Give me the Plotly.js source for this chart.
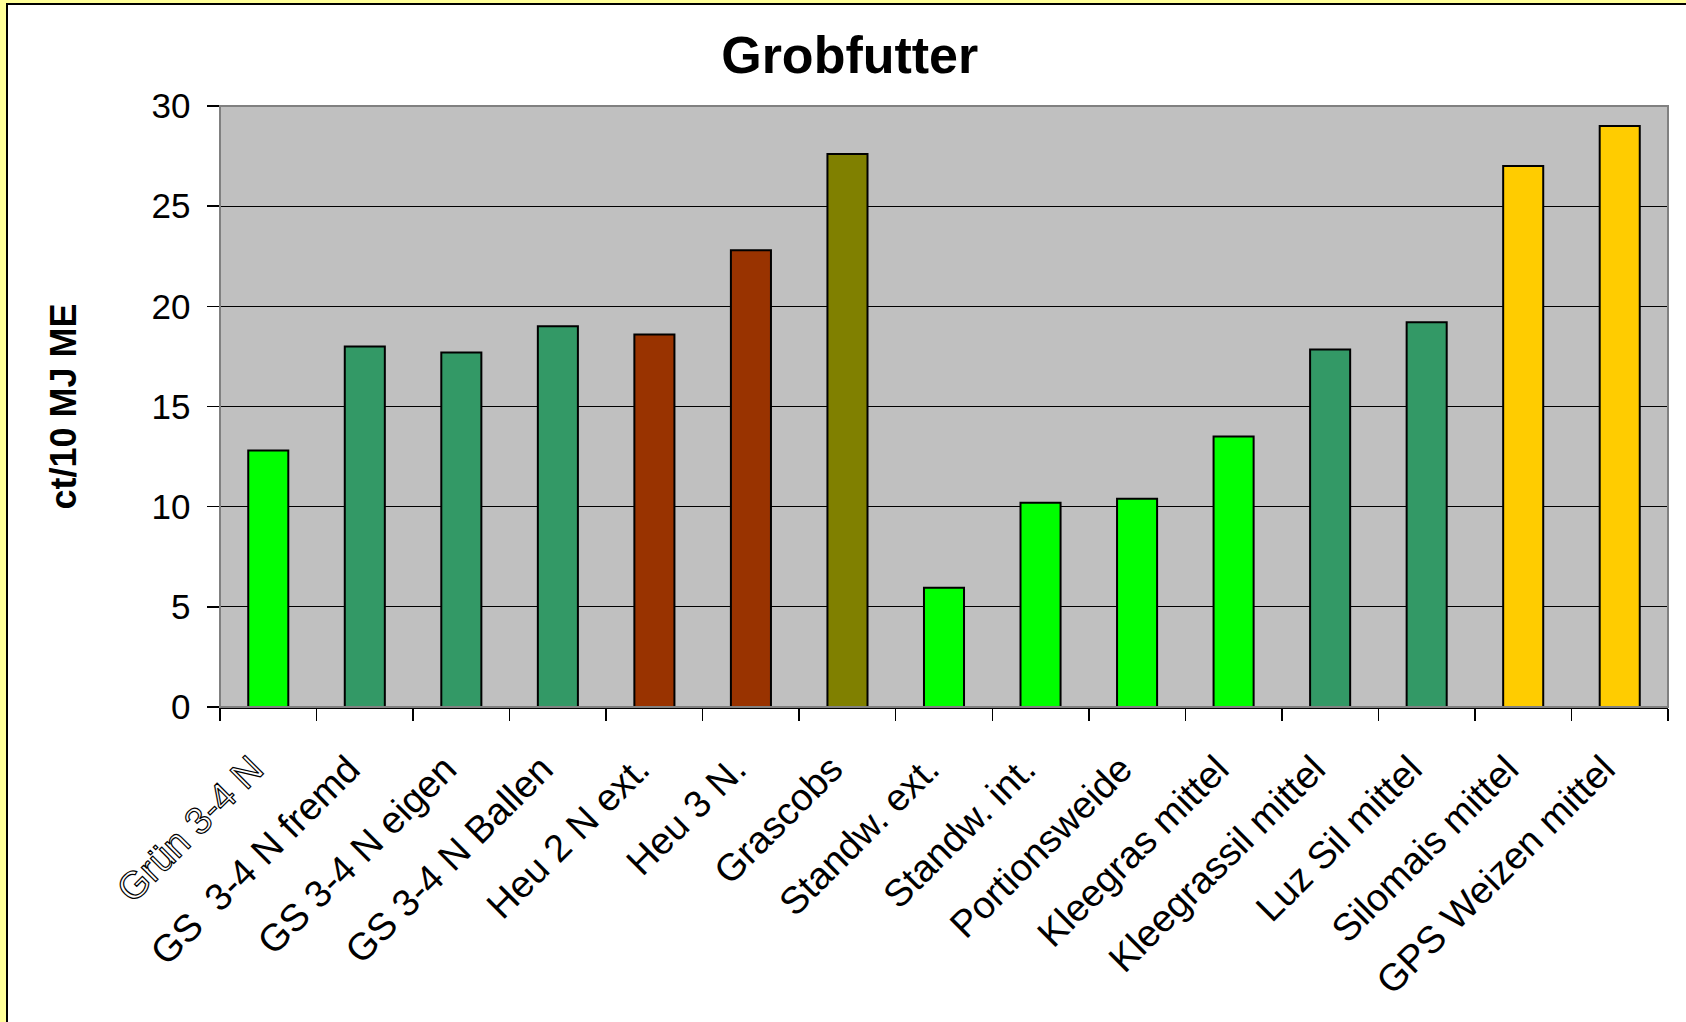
<!DOCTYPE html>
<html>
<head>
<meta charset="utf-8">
<script src="https://cdn.plot.ly/plotly-3.0.1.min.js"></script>
<style>
  html, body { margin: 0; padding: 0; width: 1686px; height: 1022px; overflow: hidden; background: #FFFF99; }
  #frame { position: absolute; left: 6px; top: 3px; width: 1700px; height: 1040px; background: #FFFFFF;
           border-left: 2px solid #000; border-top: 2px solid #000; }
  #chart { position: absolute; left: 0; top: 0; width: 1686px; height: 1022px; }
  .xaxislayer-above g.xtick:first-of-type text { fill: #FFFFFF !important; stroke: #000000; stroke-width: 1.2px; }
</style>
</head>
<body>
<div id="frame"></div>
<div id="chart"></div>
<script>
const categories = [
  "Grün 3-4 N",
  "GS\u00a0 3-4 N fremd",
  "GS 3-4 N eigen",
  "GS 3-4 N Ballen",
  "Heu 2 N ext.",
  "Heu 3 N.",
  "Grascobs",
  "Standw. ext.",
  "Standw. int.",
  "Portionsweide",
  "Kleegras mittel",
  "Kleegrassil mittel",
  "Luz Sil mittel",
  "Silomais mittel",
  "GPS Weizen mittel"
];
const values = [12.8, 18.0, 17.7, 19.0, 18.6, 22.8, 27.6, 5.95, 10.2, 10.4, 13.5, 17.85, 19.2, 27.0, 29.0];
const barColors = ["#00FF00", "#339966", "#339966", "#339966", "#993300", "#993300", "#808000",
                   "#00FF00", "#00FF00", "#00FF00", "#00FF00", "#339966", "#339966", "#FFCC00", "#FFCC00"];
const yTicks = [0, 5, 10, 15, 20, 25, 30];

const FONT = "Liberation Sans, Arial, sans-serif";

const trace = {
  type: "bar",
  x: categories,
  y: values,
  marker: { color: barColors, line: { color: "#000000", width: 2 } },
  hoverinfo: "x+y"
};

const layout = {
  width: 1686,
  height: 1022,
  margin: { l: 220, r: 18, t: 106, b: 315 },
  paper_bgcolor: "rgba(0,0,0,0)",
  plot_bgcolor: "#C0C0C0",
  font: { family: FONT, color: "#000000", size: 34 },
  showlegend: false,
  bargap: 0.585,
  title: {
    text: "<b>Grobfutter</b>",
    font: { family: FONT, size: 52, color: "#000000" },
    xref: "container", x: 0.504, xanchor: "center",
    yref: "container", y: 0.946, yanchor: "middle"
  },
  xaxis: {
    type: "category",
    tickangle: -45,
    ticks: "outside",
    tickson: "boundaries",
    ticklen: 12,
    tickwidth: 1.5,
    tickcolor: "#000000",
    tickfont: { family: FONT, size: 38, color: "#000000" },
    ticklabelstandoff: 23,
    ticklabelshift: -16,
    showline: true,
    linecolor: "#000000",
    linewidth: 1.5,
    showgrid: false,
    automargin: false
  },
  yaxis: {
    range: [0, 30],
    tickvals: yTicks,
    ticktext: yTicks.map(String),
    ticks: "outside",
    ticklen: 12,
    tickwidth: 1.5,
    tickcolor: "#000000",
    tickfont: { family: FONT, size: 35, color: "#000000" },
    ticklabelstandoff: 9,
    showline: true,
    linecolor: "#505050",
    linewidth: 1.5,
    showgrid: true,
    gridcolor: "#000000",
    gridwidth: 1,
    zeroline: false,
    automargin: false,
    title: {
      text: "<b>ct/10 MJ ME</b>",
      font: { family: FONT, size: 36, color: "#000000" },
      standoff: 64
    }
  },
  shapes: [
    { type: "rect", xref: "paper", yref: "paper", x0: 0, x1: 1, y0: 0, y1: 1,
      line: { color: "#808080", width: 2 }, fillcolor: "rgba(0,0,0,0)", layer: "above" }
  ]
};

Plotly.newPlot("chart", [trace], layout, { displayModeBar: false, staticPlot: true });
</script>
</body>
</html>
